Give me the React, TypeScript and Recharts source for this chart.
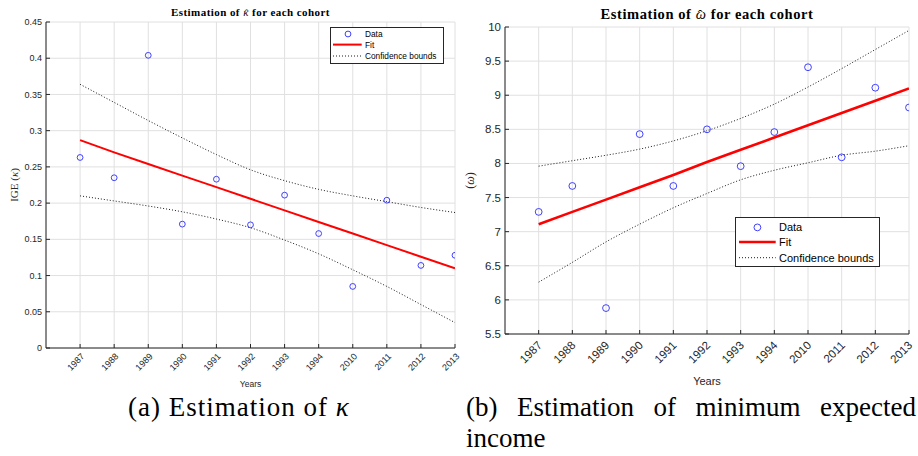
import React from "react";
import { ComposedChart, Line, XAxis, YAxis, CartesianGrid, Legend } from "recharts";

const AXIS = "#262626";
const GRID = "#e0e0e0";
const BLUE = "#2d2dff";
const SANS = "'Liberation Sans', Arial, sans-serif";
const SERIF = "'Liberation Serif', 'Times New Roman', serif";

const years = ["1987", "1988", "1989", "1990", "1991", "1992", "1993", "1994", "2010", "2011", "2012", "2013"];

// panel (a): kappa
const kappaData = [0.263, 0.235, 0.404, 0.171, 0.233, 0.17, 0.211, 0.158, 0.085, 0.204, 0.114, 0.128];
const kappaFit = [0.287, 0.27, 0.254, 0.238, 0.222, 0.206, 0.19, 0.174, 0.158, 0.142, 0.126, 0.11];
const kappaUpper = [0.364, 0.339, 0.314, 0.29, 0.267, 0.246, 0.231, 0.219, 0.21, 0.202, 0.194, 0.187];
const kappaLower = [0.21, 0.203, 0.196, 0.188, 0.178, 0.166, 0.149, 0.13, 0.108, 0.085, 0.06, 0.035];
const kappaTicks = [0, 0.05, 0.1, 0.15, 0.2, 0.25, 0.3, 0.35, 0.4, 0.45];

// panel (b): omega
const omegaData = [7.29, 7.67, 5.88, 8.43, 7.67, 8.5, 7.96, 8.46, 9.41, 8.09, 9.11, 8.82];
const omegaFit = [7.11, 7.29, 7.47, 7.65, 7.83, 8.02, 8.2, 8.38, 8.56, 8.74, 8.92, 9.1];
const omegaUpper = [7.96, 8.04, 8.12, 8.21, 8.33, 8.48, 8.66, 8.87, 9.12, 9.39, 9.67, 9.95];
const omegaLower = [6.26, 6.55, 6.85, 7.11, 7.35, 7.56, 7.76, 7.9, 8.01, 8.12, 8.18, 8.26];
const omegaTicks = [5.5, 6, 6.5, 7, 7.5, 8, 8.5, 9, 9.5, 10];

const legendLabels = ["Data", "Fit", "Confidence bounds"];
const idx = years.map((_, i) => i);

const buildRows = (data: number[], fit: number[], upper: number[], lower: number[]) =>
  years.map((year, i) => ({ i, year, data: data[i], fit: fit[i], upper: upper[i], lower: lower[i] }));

type Cfg = {
  left: number;
  width: number;
  height: number;
  margin: { top: number; right: number; bottom: number; left: number };
  yWidth: number;
  xHeight: number;
  rows: any[];
  yDomain: [number, number];
  yTicks: number[];
  fs: number;
  xdx: number;
  xdy: number;
  titleSize: number;
  titleSym: string;
  titleY: number;
  yLabel: React.ReactNode;
  yLabelX: number;
  yLabelSize: number;
  yearsY: number;
  yearsSize: number;
  dotR: number;
  fitW: number;
  lg: { left: number; top: number; w: number; h: number; rows: number[]; s0: number; s1: number; cx: number; tx: number; fs: number };
};

function Hat({ sym }: { sym: string }) {
  return (
    <span style={{ position: "relative", display: "inline-block", fontStyle: "italic", fontWeight: "normal" }}>
      {sym}
      <span style={{ position: "absolute", left: "0.14em", top: "0.02em", fontStyle: "normal" }}>{"\u02C6"}</span>
    </span>
  );
}

function Panel({ c }: { c: Cfg }) {
  const lg = c.lg;
  const plotLeft = c.margin.left + c.yWidth;
  const plotRight = c.width - c.margin.right;
  const mid = (plotLeft + plotRight) / 2;
  return (
    <div style={{ position: "absolute", left: c.left, top: 0, width: c.width, height: c.height }}>
      <div
        style={{
          position: "absolute",
          left: mid - 200,
          width: 400,
          top: c.titleY - c.titleSize * 0.6,
          lineHeight: `${c.titleSize * 1.2}px`,
          textAlign: "center",
          fontFamily: SERIF,
          fontWeight: "bold",
          fontSize: c.titleSize,
          letterSpacing: c.titleSize * 0.04,
          color: "#000",
          zIndex: 2,
        }}
      >
        Estimation of <Hat sym={c.titleSym} /> for each cohort
      </div>
      <ComposedChart width={c.width} height={c.height} data={c.rows} margin={c.margin}>
        <CartesianGrid stroke={GRID} strokeWidth={1} />
        <XAxis
          type="number"
          dataKey="i"
          domain={[-1, 11]}
          ticks={idx}
          interval={0}
          allowDataOverflow
          height={c.xHeight}
          tickSize={0}
          tickMargin={0}
          tickLine={false}
          axisLine={{ stroke: AXIS }}
          tick={(p: any) => (
            <g>
              <line x1={p.x} x2={p.x} y1={p.y} y2={p.y - 4} stroke={AXIS} />
              <text
                x={p.x + c.xdx}
                y={p.y + c.xdy}
                transform={`rotate(-45 ${p.x + c.xdx} ${p.y + c.xdy})`}
                textAnchor="end"
                fontSize={c.fs}
                fontFamily={SANS}
                fill={AXIS}
              >
                {years[p.payload.value]}
              </text>
            </g>
          )}
          label={{
            content: (p: any) => (
              <text
                x={p.viewBox.x + p.viewBox.width / 2}
                y={c.yearsY}
                dy="0.35em"
                textAnchor="middle"
                fontSize={c.yearsSize}
                fontFamily={SANS}
                fill={AXIS}
              >
                Years
              </text>
            ),
          }}
        />
        <XAxis
          xAxisId="top"
          orientation="top"
          type="number"
          dataKey="i"
          domain={[-1, 11]}
          ticks={idx}
          interval={0}
          allowDataOverflow
          height={0}
          tickSize={0}
          tickMargin={0}
          tickLine={false}
          axisLine={{ stroke: AXIS }}
          tick={(p: any) => <line x1={p.x} x2={p.x} y1={p.y} y2={p.y + 4} stroke={AXIS} />}
        />
        <YAxis
          type="number"
          domain={c.yDomain}
          ticks={c.yTicks}
          interval={0}
          allowDataOverflow
          width={c.yWidth}
          tickSize={0}
          tickMargin={0}
          tickLine={false}
          axisLine={{ stroke: AXIS }}
          tick={(p: any) => (
            <g>
              <line x1={p.x} x2={p.x + 4} y1={p.y} y2={p.y} stroke={AXIS} />
              <text x={p.x - 4} y={p.y} dy="0.35em" textAnchor="end" fontSize={c.fs} fontFamily={SANS} fill={AXIS}>
                {p.payload.value}
              </text>
            </g>
          )}
          label={{
            content: (p: any) => {
              const cy = p.viewBox.y + p.viewBox.height / 2;
              return (
                <text
                  x={c.yLabelX}
                  y={cy}
                  transform={`rotate(-90 ${c.yLabelX} ${cy})`}
                  dy="0.35em"
                  textAnchor="middle"
                  fontSize={c.yLabelSize}
                  fontFamily={SERIF}
                  fill={AXIS}
                >
                  {c.yLabel}
                </text>
              );
            },
          }}
        />
        <YAxis
          yAxisId="right"
          orientation="right"
          type="number"
          domain={c.yDomain}
          ticks={c.yTicks}
          interval={0}
          allowDataOverflow
          width={0}
          tickSize={0}
          tickMargin={0}
          tickLine={false}
          axisLine={{ stroke: AXIS }}
          tick={(p: any) => <line x1={p.x} x2={p.x - 4} y1={p.y} y2={p.y} stroke={AXIS} />}
        />
        <Line dataKey="upper" type="monotone" stroke="#000" strokeWidth={0.9} strokeDasharray="1 2" dot={false} activeDot={false} isAnimationActive={false} />
        <Line dataKey="lower" type="monotone" stroke="#000" strokeWidth={0.9} strokeDasharray="1 2" dot={false} activeDot={false} isAnimationActive={false} />
        <Line dataKey="fit" type="linear" stroke="#ff0000" strokeWidth={c.fitW} dot={false} activeDot={false} isAnimationActive={false} />
        <Line
          dataKey="data"
          stroke="none"
          dot={{ r: c.dotR, stroke: BLUE, strokeWidth: 0.9, fill: "none" }}
          activeDot={false}
          isAnimationActive={false}
        />
        <Legend
          layout="vertical"
          align="center"
          verticalAlign="middle"
          wrapperStyle={{ left: lg.left, top: lg.top, width: lg.w, height: lg.h }}
          content={() => (
            <svg width={lg.w} height={lg.h} style={{ display: "block" }}>
              <rect x={0.5} y={0.5} width={lg.w - 1} height={lg.h - 1} fill="#fff" stroke={AXIS} />
              <circle cx={lg.cx} cy={lg.rows[0]} r={c.dotR} fill="none" stroke={BLUE} strokeWidth={0.9} />
              <line x1={lg.s0} x2={lg.s1} y1={lg.rows[1]} y2={lg.rows[1]} stroke="#ff0000" strokeWidth={c.fitW} />
              <line x1={lg.s0} x2={lg.s1} y1={lg.rows[2]} y2={lg.rows[2]} stroke="#000" strokeWidth={0.9} strokeDasharray="1 2" />
              {legendLabels.map((t, k) => (
                <text key={t} x={lg.tx} y={lg.rows[k]} dy="0.35em" fontSize={lg.fs} fontFamily={SANS} fill="#000">
                  {t}
                </text>
              ))}
            </svg>
          )}
        />
      </ComposedChart>
    </div>
  );
}

const kappaCfg: Cfg = {
  left: 0,
  width: 460,
  height: 395,
  margin: { top: 22, right: 5, bottom: 0, left: 0 },
  yWidth: 46,
  xHeight: 47,
  rows: buildRows(kappaData, kappaFit, kappaUpper, kappaLower),
  yDomain: [0, 0.45],
  yTicks: kappaTicks,
  fs: 9,
  xdx: 5,
  xdy: 9,
  titleSize: 11,
  titleSym: "\u03BA",
  titleY: 13,
  yLabel: (
    <>
      IGE (<tspan fontStyle="italic">{"\u03BA"}</tspan>)
    </>
  ),
  yLabelX: 14,
  yLabelSize: 11,
  yearsY: 384,
  yearsSize: 8.5,
  dotR: 2.9,
  fitW: 2,
  lg: { left: 330, top: 27, w: 114, h: 37, rows: [7, 17.6, 29], s0: 3, s1: 31.7, cx: 18, tx: 35, fs: 8.3 },
};

const omegaCfg: Cfg = {
  left: 460,
  width: 458,
  height: 395,
  margin: { top: 27, right: 9, bottom: 0, left: 0 },
  yWidth: 45,
  xHeight: 61,
  rows: buildRows(omegaData, omegaFit, omegaUpper, omegaLower),
  yDomain: [5.5, 10],
  yTicks: omegaTicks,
  fs: 11.5,
  xdx: 4,
  xdy: 12,
  titleSize: 14.5,
  titleSym: "\u03C9",
  titleY: 15,
  yLabel: (
    <>
      (<tspan fontStyle="italic">{"\u03C9"}</tspan>)
    </>
  ),
  yLabelX: 10,
  yLabelSize: 12,
  yearsY: 381,
  yearsSize: 11,
  dotR: 3.4,
  fitW: 2.6,
  lg: { left: 275, top: 217, w: 145, h: 50, rows: [10.4, 25, 40.7], s0: 4, s1: 40.7, cx: 22.4, tx: 44, fs: 11 },
};

const captionStyle: React.CSSProperties = {
  position: "absolute",
  fontFamily: "Liberation Serif, serif",
  fontSize: 27,
  lineHeight: "31px",
  color: "#000",
  whiteSpace: "nowrap",
};

export default function App() {
  return (
    <div style={{ position: "absolute", left: 0, top: 0, width: 918, height: 456, background: "#fff", overflow: "hidden" }}>
      <Panel c={kappaCfg} />
      <Panel c={omegaCfg} />
      <div style={{ ...captionStyle, left: 128, top: 392, letterSpacing: 1 }}>
        (a) Estimation of <i>{"\u03BA"}</i>
      </div>
      <div style={{ ...captionStyle, left: 466, top: 392, width: 450, display: "flex", justifyContent: "space-between" }}>
        {["(b)", "Estimation", "of", "minimum", "expected"].map((w) => (
          <span key={w}>{w}</span>
        ))}
      </div>
      <div style={{ ...captionStyle, left: 466, top: 423 }}>income</div>
    </div>
  );
}
